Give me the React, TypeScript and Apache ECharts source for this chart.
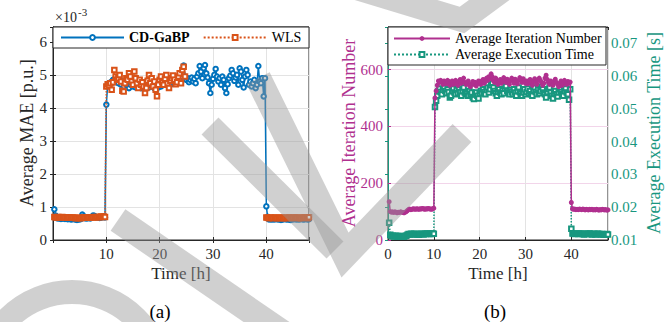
import React, { useEffect, useRef } from "react";
import * as echarts from "echarts";

// sampling grid: every 15 min over 48 h
const TIME: number[] = Array.from({ length: 192 }, (_, i) => (i + 1) * 0.25);

// Average MAE (x 1e-3 p.u.)
const MAE_CDGABP: number[] = [
  0.93, 0.74, 0.66, 0.65, 0.66, 0.64, 0.65, 0.66, 0.64, 0.65, 0.63, 0.64, 0.63, 0.62, 0.64, 0.63,
  0.62, 0.61, 0.63, 0.62, 0.64, 0.77, 0.72, 0.66, 0.65, 0.66, 0.67, 0.65, 0.68, 0.74, 0.73, 0.70,
  0.68, 0.69, 0.67, 0.68, 0.69, 0.70, 0.68, 4.10, 4.70, 4.75, 4.72, 4.80, 4.85, 4.78, 4.90, 4.82,
  4.75, 4.85, 4.70, 4.80, 4.65, 4.78, 4.72, 4.68, 4.60, 4.70, 4.75, 4.65, 4.72, 4.62, 4.80, 4.68,
  4.70, 4.60, 4.75, 4.66, 4.58, 4.72, 4.68, 4.62, 4.70, 4.66, 4.75, 4.60, 4.55, 4.68, 4.62, 4.72,
  4.65, 4.75, 4.70, 4.80, 4.72, 4.85, 4.78, 4.70, 4.80, 4.88, 4.75, 4.82, 4.78, 4.90, 4.85, 4.95,
  5.05, 5.28, 4.95, 4.85, 4.90, 4.78, 4.85, 4.92, 4.80, 4.88, 4.75, 4.95, 5.05, 5.27, 5.10, 4.90,
  5.20, 5.30, 5.05, 4.92, 4.75, 4.45, 4.70, 4.88, 5.00, 5.18, 4.95, 4.80, 4.90, 4.70, 4.95, 4.85,
  4.60, 4.45, 4.72, 4.90, 4.98, 5.15, 5.05, 4.82, 4.92, 5.00, 4.70, 5.20, 5.10, 4.85, 4.62, 4.95,
  5.15, 5.00, 4.70, 4.80, 4.65, 4.75, 4.85, 4.60, 4.70, 5.27, 4.80, 4.75, 4.90, 4.35, 4.90, 1.02,
  0.70, 0.62, 0.63, 0.62, 0.63, 0.62, 0.64, 0.63, 0.62, 0.63, 0.61, 0.62, 0.63, 0.64, 0.62, 0.63,
  0.62, 0.61, 0.63, 0.62, 0.64, 0.63, 0.62, 0.63, 0.62, 0.64, 0.63, 0.62, 0.63, 0.64, 0.62, 0.63,
];

const MAE_WLS: (number | null)[] = [
  0.70, 0.69, 0.68, 0.70, 0.69, 0.68, 0.70, 0.69, 0.68, 0.69, 0.67, 0.68, 0.68, 0.67, 0.68, 0.67,
  0.66, 0.67, 0.66, 0.67, 0.66, 0.67, 0.68, 0.67, 0.68, 0.67, 0.69, 0.68, 0.69, 0.68, 0.70, 0.69,
  0.70, 0.69, 0.70, 0.71, 0.70, 0.71, 0.70, 4.65, 4.72, 4.68, 4.75, 4.55, 4.78, 5.15, 4.95, 4.85,
  4.90, 5.00, 4.80, 4.52, 4.50, 4.75, 4.90, 4.85, 5.05, 4.95, 4.80, 4.70, 5.10, 4.90, 4.75, 4.60,
  4.85, 4.70, 4.78, 4.65, 4.45, 4.60, 4.82, 5.00, 4.75, 4.90, 4.65, 4.80, 4.55, 4.35, 4.70, 4.85,
  4.95, 4.78, 4.70, 4.88, 5.00, 4.75, 4.60, 4.82, 4.90, 4.98, 4.85, 4.72, 4.78, 4.95, 5.05, 4.75,
  5.15, 5.25, 4.95, null, null, null, null, null, null, null, null, null, null, null, null, null,
  null, null, null, null, null, null, null, null, null, null, null, null, null, null, null, null,
  null, null, null, null, null, null, null, null, null, null, null, null, null, null, null, null,
  null, null, null, null, null, null, null, null, null, null, null, null, null, null, null, 0.68,
  0.67, 0.66, 0.68, 0.67, 0.66, 0.67, 0.68, 0.66, 0.67, 0.66, 0.67, 0.68, 0.66, 0.67, 0.66, 0.67,
  0.68, 0.67, 0.66, 0.67, 0.67, 0.68, 0.67, 0.66, 0.67, 0.66, 0.68, 0.67, 0.68, 0.67, 0.66, 0.69,
];

// Average iteration number
const ITER_NUM: number[] = [
  135, 100, 98, 99, 97, 99, 98, 96, 98, 97, 99, 98, 97, 96, 98, 100,
  104, 108, 109, 107, 108, 110, 109, 108, 110, 109, 108, 110, 109, 111, 110, 108,
  110, 109, 111, 110, 109, 108, 110, 112, 500, 525, 545, 560, 555, 562, 558, 548,
  560, 555, 550, 562, 558, 545, 552, 560, 548, 555, 562, 550, 545, 558, 565, 552,
  560, 570, 555, 548, 552, 560, 545, 540, 550, 558, 548, 555, 542, 550, 560, 556,
  548, 560, 565, 552, 558, 570, 562, 575, 568, 585, 575, 560, 555, 570, 560, 548,
  558, 565, 552, 560, 572, 560, 555, 566, 558, 548, 562, 570, 560, 552, 566, 558,
  550, 562, 572, 565, 555, 568, 560, 552, 560, 550, 558, 565, 552, 545, 560, 568,
  556, 548, 562, 570, 562, 555, 545, 552, 570, 580, 565, 555, 548, 560, 552, 545,
  558, 566, 555, 548, 540, 552, 560, 545, 550, 562, 555, 548, 558, 552, 556, 132,
  110, 108, 109, 107, 108, 107, 109, 108, 107, 109, 108, 106, 108, 107, 106, 108,
  107, 108, 106, 107, 106, 108, 107, 105, 107, 106, 108, 107, 106, 107, 105, 106,
];

// Average execution time [s]
const EXEC_TIME: number[] = [
  0.0153, 0.0116, 0.0112, 0.0113, 0.0111, 0.0112, 0.0113, 0.0110, 0.0112, 0.0111, 0.0110, 0.0112, 0.0111, 0.0110, 0.0112, 0.0113,
  0.0116, 0.0118, 0.0117, 0.0119, 0.0118, 0.0117, 0.0119, 0.0118, 0.0117, 0.0118, 0.0116, 0.0118, 0.0119, 0.0118, 0.0117, 0.0119,
  0.0118, 0.0120, 0.0119, 0.0118, 0.0119, 0.0118, 0.0120, 0.0119, 0.0506, 0.0525, 0.0540, 0.0555, 0.0562, 0.0552, 0.0545, 0.0558,
  0.0565, 0.0555, 0.0548, 0.0560, 0.0552, 0.0535, 0.0540, 0.0555, 0.0562, 0.0550, 0.0545, 0.0558, 0.0548, 0.0560, 0.0552, 0.0540,
  0.0555, 0.0565, 0.0550, 0.0545, 0.0548, 0.0540, 0.0555, 0.0545, 0.0550, 0.0535, 0.0530, 0.0545, 0.0550, 0.0540, 0.0532, 0.0548,
  0.0555, 0.0548, 0.0560, 0.0552, 0.0545, 0.0558, 0.0565, 0.0550, 0.0560, 0.0572, 0.0580, 0.0565, 0.0555, 0.0548, 0.0540, 0.0552,
  0.0560, 0.0550, 0.0545, 0.0556, 0.0548, 0.0562, 0.0570, 0.0555, 0.0550, 0.0545, 0.0558, 0.0552, 0.0545, 0.0560, 0.0550, 0.0540,
  0.0555, 0.0565, 0.0552, 0.0548, 0.0540, 0.0550, 0.0560, 0.0545, 0.0552, 0.0562, 0.0548, 0.0555, 0.0545, 0.0540, 0.0558, 0.0565,
  0.0552, 0.0545, 0.0560, 0.0548, 0.0555, 0.0568, 0.0560, 0.0550, 0.0545, 0.0535, 0.0552, 0.0560, 0.0565, 0.0550, 0.0540, 0.0532,
  0.0548, 0.0555, 0.0545, 0.0538, 0.0550, 0.0560, 0.0552, 0.0545, 0.0540, 0.0555, 0.0562, 0.0550, 0.0545, 0.0528, 0.0560, 0.0134,
  0.0120, 0.0119, 0.0118, 0.0119, 0.0119, 0.0118, 0.0120, 0.0119, 0.0118, 0.0119, 0.0117, 0.0118, 0.0119, 0.0118, 0.0119, 0.0120,
  0.0118, 0.0117, 0.0118, 0.0119, 0.0117, 0.0118, 0.0119, 0.0118, 0.0118, 0.0117, 0.0118, 0.0117, 0.0116, 0.0117, 0.0118, 0.0117,
];

const X_TICKS_A = [10, 20, 30, 40];
const X_TICKS_B = [0, 10, 20, 30, 40];

const FONT = "'Liberation Serif', 'Times New Roman', serif";
const AX = "#262626";
const BLUE = "#0072BD";
const ORANGE = "#D95319";
const MAG = "#B0308F";
const TEAL = "#18977F";
const GRID_GRAY = "#E3E3E3";
const GRID_PINK = "#F2D5EA";
const WM = "rgba(150,150,150,0.45)";

const pair = (arr: (number | null)[]) => arr.map((v, i) => [TIME[i], v === null ? null : v]);
const isMult = (v: number, step: number) => Math.abs(v / step - Math.round(v / step)) < 1e-6;

export default function App() {
  const ref = useRef<HTMLDivElement>(null);
  useEffect(() => {
    if (!ref.current) return;
    const chart = echarts.init(ref.current, undefined, { renderer: "svg" });

    const tickLabel = (color: string) => ({ color, fontSize: 15, fontFamily: FONT });
    const baseX = (gridIndex: number, ticks: number[], position = "bottom", show = true) => ({
      type: "value",
      gridIndex,
      position,
      min: 0,
      max: 48,
      interval: 10,
      axisLine: { show: true, lineStyle: { color: AX, width: 1 } },
      axisTick: { show: true, inside: true, length: 3, lineStyle: { color: AX } },
      axisLabel: {
        show,
        margin: 6,
        ...tickLabel(AX),
        formatter: (v: number) => (ticks.includes(Math.round(v)) && isMult(v, 10) ? String(Math.round(v)) : ""),
      },
      splitLine: { show: position === "bottom", lineStyle: { color: GRID_GRAY, width: 1 } },
    });

    const legendText = { fontSize: 14, fontFamily: FONT, color: "#000", lineHeight: 15 };

    const option: any = {
      animation: false,
      backgroundColor: "#fff",
      grid: [
        { left: 53, right: 356, top: 27, bottom: 82, show: true, borderColor: AX, borderWidth: 1, backgroundColor: "transparent" },
        { left: 388, right: 57, top: 27, bottom: 82, show: true, borderColor: AX, borderWidth: 1, backgroundColor: "transparent" },
      ],
      xAxis: [
        baseX(0, X_TICKS_A, "bottom", true),
        baseX(0, X_TICKS_A, "top", false),
        baseX(1, X_TICKS_B, "bottom", true),
        baseX(1, X_TICKS_B, "top", false),
      ],
      yAxis: [
        {
          type: "value",
          gridIndex: 0,
          position: "left",
          min: 0,
          max: 6.45,
          interval: 1,
          axisLine: { show: true, lineStyle: { color: AX } },
          axisTick: { show: true, inside: true, length: 3, lineStyle: { color: AX } },
          axisLabel: { margin: 6, ...tickLabel(AX), formatter: (v: number) => (isMult(v, 1) ? String(Math.round(v)) : "") },
          splitLine: { show: true, lineStyle: { color: GRID_GRAY, width: 1 } },
        },
        {
          type: "value",
          gridIndex: 0,
          position: "right",
          min: 0,
          max: 6.45,
          interval: 1,
          axisLine: { show: true, lineStyle: { color: AX } },
          axisTick: { show: true, inside: true, length: 3, lineStyle: { color: AX } },
          axisLabel: { show: false },
          splitLine: { show: false },
        },
        {
          type: "value",
          gridIndex: 1,
          position: "left",
          min: 0,
          max: 750,
          interval: 200,
          axisLine: { show: true, lineStyle: { color: MAG, width: 1 } },
          axisTick: { show: true, inside: true, length: 3, lineStyle: { color: MAG } },
          axisLabel: { margin: 5, ...tickLabel(MAG), formatter: (v: number) => (isMult(v, 200) ? String(Math.round(v)) : "") },
          splitLine: { show: true, lineStyle: { color: GRID_PINK, width: 1 } },
        },
        {
          type: "value",
          gridIndex: 1,
          position: "right",
          min: 0.01,
          max: 0.075,
          interval: 0.01,
          axisLine: { show: true, lineStyle: { color: TEAL, width: 1 } },
          axisTick: { show: true, inside: true, length: 3, lineStyle: { color: TEAL } },
          axisLabel: { margin: 3, ...tickLabel(TEAL), formatter: (v: number) => (isMult(v, 0.01) ? v.toFixed(2) : "") },
          splitLine: { show: false },
        },
      ],
      legend: [
        {
          left: 55,
          top: 25,
          itemWidth: 63,
          itemHeight: 6,
          itemGap: 13,
          z: 20,
          itemStyle: { borderWidth: 1.2 },
          textStyle: legendText,
          data: [{ name: "CD-GaBP", textStyle: { fontWeight: "bold" } }, { name: "WLS" }],
        },
        {
          left: 388,
          top: 26,
          orient: "vertical",
          itemWidth: 56,
          itemHeight: 6,
          itemGap: 1,
          z: 20,
          itemStyle: { borderWidth: 1.2 },
          textStyle: legendText,
          data: [{ name: "Average Iteration Number" }, { name: "Average Execution Time" }],
        },
      ],
      series: [
        {
          name: "CD-GaBP",
          type: "line",
          xAxisIndex: 0,
          yAxisIndex: 0,
          data: pair(MAE_CDGABP),
          symbol: "emptyCircle",
          symbolSize: 4.5,
          color: BLUE,
          lineStyle: { color: BLUE, width: 1.5 },
          itemStyle: { color: BLUE, borderColor: BLUE, borderWidth: 1.5 },
          z: 2,
        },
        {
          name: "WLS",
          type: "line",
          xAxisIndex: 0,
          yAxisIndex: 0,
          data: pair(MAE_WLS),
          symbol: "emptyRect",
          symbolSize: 4.5,
          color: ORANGE,
          lineStyle: { color: ORANGE, width: 1.5, type: "dotted" },
          itemStyle: { color: ORANGE, borderColor: ORANGE, borderWidth: 2 },
          z: 3,
        },
        {
          name: "Average Iteration Number",
          type: "line",
          xAxisIndex: 2,
          yAxisIndex: 2,
          data: pair(ITER_NUM),
          symbol: "circle",
          symbolSize: 5,
          color: MAG,
          lineStyle: { color: MAG, width: 1.5 },
          itemStyle: { color: MAG },
          z: 3,
        },
        {
          name: "Average Execution Time",
          type: "line",
          xAxisIndex: 2,
          yAxisIndex: 3,
          data: pair(EXEC_TIME),
          symbol: "emptyRect",
          symbolSize: 4.5,
          color: TEAL,
          lineStyle: { color: TEAL, width: 1.5, type: "dotted" },
          itemStyle: { color: TEAL, borderColor: TEAL, borderWidth: 2 },
          z: 2,
        },
      ],
      graphic: [
        // legend boxes
        { type: "rect", z: 10, shape: { x: 53, y: 27, width: 256, height: 21 }, style: { fill: "#fff", stroke: AX, lineWidth: 1 } },
        { type: "rect", z: 10, shape: { x: 388, y: 27, width: 218, height: 38 }, style: { fill: "#fff", stroke: AX, lineWidth: 1 } },
        // exponent label
        { type: "text", z: 10, x: 55, y: 24, style: { text: "×10", font: `14px ${FONT}`, fill: AX, verticalAlign: "bottom", align: "left" } },
        { type: "text", z: 10, x: 78, y: 17, style: { text: "-3", font: `11px ${FONT}`, fill: AX, verticalAlign: "bottom", align: "left" } },
        // axis names
        { type: "text", z: 10, x: 27, y: 133, rotation: Math.PI / 2, style: { text: "Average MAE [p.u.]", font: `18px ${FONT}`, fill: AX, align: "center", verticalAlign: "middle" } },
        { type: "text", z: 10, x: 349, y: 133, rotation: Math.PI / 2, style: { text: "Average Iteration Number", font: `18px ${FONT}`, fill: MAG, align: "center", verticalAlign: "middle" } },
        { type: "text", z: 10, x: 654, y: 133, rotation: Math.PI / 2, style: { text: "Average Execution Time [s]", font: `18px ${FONT}`, fill: TEAL, align: "center", verticalAlign: "middle" } },
        { type: "text", z: 10, x: 181, y: 273, style: { text: "Time [h]", font: `17px ${FONT}`, fill: AX, align: "center", verticalAlign: "middle" } },
        { type: "text", z: 10, x: 498, y: 273, style: { text: "Time [h]", font: `17px ${FONT}`, fill: AX, align: "center", verticalAlign: "middle" } },
        // captions
        { type: "text", z: 10, x: 160, y: 311, style: { text: "(a)", font: `19px ${FONT}`, fill: "#000", align: "center", verticalAlign: "middle" } },
        { type: "text", z: 10, x: 495, y: 311, style: { text: "(b)", font: `19px ${FONT}`, fill: "#000", align: "center", verticalAlign: "middle" } },
        // watermark stripes
        { type: "polyline", z: 100, shape: { points: [[258, 78], [345, 255], [462, 133]] }, style: { stroke: WM, lineWidth: 26, fill: null, lineJoin: "miter", lineCap: "butt" } },
        { type: "line", z: 100, shape: { x1: 210, y1: 126, x2: 335, y2: 250 }, style: { stroke: WM, lineWidth: 24, lineCap: "butt" } },
        { type: "line", z: 100, shape: { x1: 118, y1: 220, x2: 300, y2: 345 }, style: { stroke: WM, lineWidth: 26, lineCap: "butt" } },
        { type: "arc", z: 100, shape: { cx: 72, cy: 382, r: 90, startAngle: Math.PI, endAngle: 2 * Math.PI, clockwise: true }, style: { stroke: WM, lineWidth: 24, fill: null } },
        { type: "polyline", z: 100, shape: { points: [[330, -20], [462, 20], [530, -30]] }, style: { stroke: WM, lineWidth: 24, fill: null, lineJoin: "miter", lineCap: "butt" } },
      ],
    };
    chart.setOption(option);
    return () => chart.dispose();
  }, []);
  return <div ref={ref} style={{ position: "fixed", left: 0, top: 0, width: 665, height: 322 }} />;
}
